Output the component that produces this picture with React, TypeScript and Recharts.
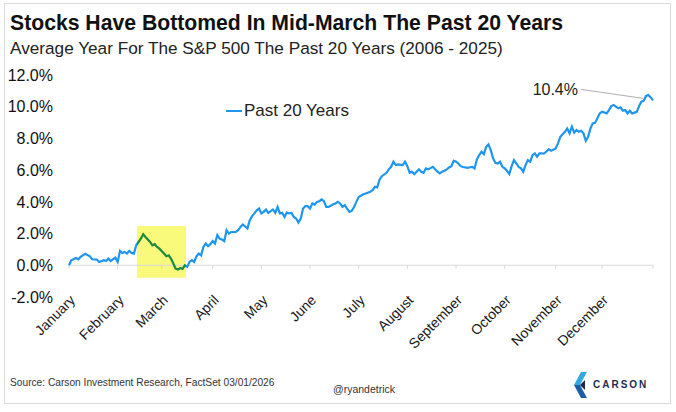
import React from 'react';
import {
  LineChart,
  Line,
  XAxis,
  YAxis,
  ReferenceArea,
  ReferenceLine,
  Legend,
  LabelList,
} from 'recharts';

// trading day of the year (0 = first close) and average cumulative return, %
const tradingDay = [
  0, 1, 3, 4, 5, 7, 9, 10, 12, 13, 15, 16, 17, 18, 20, 21, 22, 23, 24, 25, 26, 27, 28, 29, 31,
  32, 33, 35, 36, 37, 38, 39, 41, 42, 43, 44, 45, 46, 47, 48, 49, 50, 51, 52, 53, 54, 55, 56, 57,
  58, 59, 60, 61, 62, 63, 64, 65, 66, 67, 68, 69, 70, 72, 73, 74, 75, 77, 78, 79, 80, 81, 82, 83,
  84, 85, 86, 88, 89, 90, 91, 92, 93, 94, 95, 96, 97, 98, 99, 100, 101, 102, 103, 104, 105, 106,
  107, 108, 109, 110, 111, 112, 114, 115, 116, 117, 118, 119, 120, 121, 122, 123, 124, 125, 127,
  128, 130, 131, 132, 133, 134, 135, 137, 138, 139, 140, 141, 142, 144, 145, 146, 147, 148, 149,
  150, 151, 152, 153, 154, 155, 157, 158, 159, 160, 161, 162, 163, 164, 165, 166, 167, 168, 169,
  170, 172, 173, 174, 175, 176, 177, 178, 179, 180, 181, 182, 183, 184, 185, 186, 187, 188, 189,
  190, 191, 192, 193, 194, 195, 196, 197, 198, 199, 200, 201, 202, 203, 204, 205, 207, 208, 210,
  211, 212, 214, 215, 216, 217, 218, 219, 220, 221, 222, 223, 224, 225, 226, 227, 228, 229, 230,
  232, 233, 234, 235, 236, 237, 238, 239, 240, 241, 242, 243, 245, 246, 247, 248, 249, 250, 251, 252,
];

const avgReturn = [
  0.0, 0.32, 0.46, 0.38, 0.53, 0.72, 0.57, 0.38, 0.36, 0.21, 0.32, 0.27, 0.42, 0.27, 0.48, 0.21,
  0.9, 0.78, 0.84, 0.74, 0.9, 0.78, 0.74, 1.26, 1.68,
  1.96, 1.79, 1.47, 1.26, 1.33, 1.16, 1.05, 0.74, 0.57, 0.63, 0.42, 0.11, -0.21, -0.27, -0.17,
  -0.23, 0.0, -0.1, 0.21, 0.32, 0.21, 0.57, 0.74, 0.63,
  1.16, 1.37, 1.2, 1.33, 1.53, 1.37, 1.9, 1.68, 1.62, 1.52, 2.21, 2.0, 2.1, 2.1, 2.21, 2.42, 2.57,
  2.32, 2.84, 3.1, 3.27, 3.47, 3.58, 3.27,
  3.37, 3.52, 3.3, 3.52, 3.3, 3.68, 3.27, 3.3, 3.05, 3.33, 3.27, 3.3, 3.05, 2.95, 2.7, 2.95, 3.58,
  3.73, 3.73, 3.58, 3.9, 3.83,
  4.0, 4.04, 4.15, 4.04, 3.68, 3.68, 3.85, 3.9, 4.0, 3.9, 3.68, 3.79, 3.58, 3.37, 3.43, 3.68, 4.0,
  4.31, 4.48,
  4.53, 4.63, 4.74, 4.95, 4.91, 5.4, 5.62, 5.83, 6.05, 6.21, 6.53, 6.32, 6.36, 6.32, 6.53, 6.25,
  5.83, 5.9, 5.75,
  5.9, 6.05, 5.9, 5.83, 6.11, 6.05, 6.21, 6.05, 5.9, 5.79, 5.9, 5.96, 6.05, 6.17, 6.25, 6.59, 6.53,
  6.42, 6.25,
  6.2, 6.15, 6.18, 6.21, 6.11, 6.68, 6.95, 7.16, 7.01, 7.47, 7.62, 7.26, 6.74, 6.46, 6.42, 6.53,
  6.21, 6.11, 5.96,
  5.75, 6.25, 6.63, 6.42, 6.21, 6.11, 5.9, 6.32, 6.63, 6.53, 6.95, 7.06, 6.84, 7.06, 7.06, 7.05,
  7.31, 7.22, 7.37,
  7.69, 8.1, 8.42, 8.63, 8.32, 8.74, 8.36, 8.53, 8.42, 8.48, 8.32, 7.85, 8.1, 8.63, 8.95, 8.99,
  9.27, 9.58, 9.68,
  9.58, 9.79, 10.04, 10.11, 10.0, 9.9, 9.96, 9.75, 9.79, 9.58, 9.75, 9.58, 9.68, 10.04, 10.32,
  10.38, 10.68, 10.74, 10.59, 10.4,
];

const monthNames = [
  'January', 'February', 'March', 'April', 'May', 'June',
  'July', 'August', 'September', 'October', 'November', 'December',
];
const monthStarts = [0, 21, 40, 62, 83, 104, 125, 146, 167, 188, 210, 230];
const yearEnd = 252;
const yTicks = [-2, 0, 2, 4, 6, 8, 10, 12];

// mid-March bottoming window
const highlightDays = [29.3, 50.5];
const highlightRange = [-0.78, 2.48];

const data = tradingDay.map((day, i) => ({ day, value: avgReturn[i] }));

const BLUE = '#1f96ee';
const GREEN = '#1e8a3e';
const YELLOW = '#f9f97c';
const FONT = "'Liberation Sans', Arial, sans-serif";

const EndLabel = (props: any) => {
  const { x, y, index, value } = props;
  if (index !== data.length - 1) return null;
  return (
    <g>
      <line x1={x - 10} y1={y - 2} x2={x - 72} y2={y - 11} stroke="#b0b0b0" strokeWidth={1} />
      <text x={x - 75} y={y - 11} textAnchor="end" dominantBaseline="central"
        fontSize={16} fill="#222" fontFamily={FONT}>
        {`${Number(value).toFixed(1)}%`}
      </text>
    </g>
  );
};

const LegendContent = () => (
  <div style={{ display: 'flex', alignItems: 'center', fontFamily: FONT, fontSize: 17, color: '#222', whiteSpace: 'nowrap' }}>
    <span style={{ width: 16, height: 2, background: BLUE, display: 'inline-block', marginRight: 2 }} />
    Past 20 Years
  </div>
);

const App = () => {
  const gradStart = highlightDays[0] / yearEnd;
  const gradEnd = highlightDays[1] / yearEnd;

  return (
    <div style={{ position: 'absolute', left: 0, top: 0, width: 676, height: 412, background: '#fff' }}>
      <svg width={676} height={412} style={{ position: 'absolute', left: 0, top: 0 }}>
        <rect x={4.5} y={3.5} width={666} height={400} fill="none" stroke="#dadada" />
        <text x={10} y={30} fontFamily={FONT} fontWeight="bold" fontSize={21.2} fill="#111">
          Stocks Have Bottomed In Mid-March The Past 20 Years
        </text>
        <text x={10} y={54} fontFamily={FONT} fontSize={17.2} fill="#222">
          Average Year For The S&amp;P 500 The Past 20 Years (2006 - 2025)
        </text>
        <text x={10} y={386} fontFamily={FONT} fontSize={10.2} fill="#333">
          Source: Carson Investment Research, FactSet 03/01/2026
        </text>
        <text x={364} y={393} textAnchor="middle" fontFamily={FONT} fontSize={10.5} fill="#333">
          @ryandetrick
        </text>
        <polygon points="581,372 587,372 580,385 574,385" fill="#35a8e2" />
        <polygon points="574,385 580,385 587,398 581,398" fill="#1a5ea6" />
        <polygon points="580,385 585,380 585,390" fill="#1c2a4a" />
        <text x={593} y={388} fontFamily={FONT} fontSize={10} fontWeight="bold" letterSpacing={2} fill="#1f2d50">
          CARSON
        </text>
      </svg>

      <div style={{ position: 'absolute', left: 0, top: 0 }}>
        <LineChart width={676} height={412} data={data} margin={{ top: 75, right: 23, bottom: 0, left: 9 }}>
          <defs>
            <linearGradient id="hl" x1="0" y1="0" x2="1" y2="0">
              <stop offset={gradStart} stopColor={BLUE} />
              <stop offset={gradStart} stopColor={GREEN} />
              <stop offset={gradEnd} stopColor={GREEN} />
              <stop offset={gradEnd} stopColor={BLUE} />
            </linearGradient>
          </defs>
          <XAxis
            type="number"
            dataKey="day"
            domain={[0, yearEnd]}
            ticks={monthStarts}
            tickFormatter={(v: number) => monthNames[monthStarts.indexOf(v)]}
            height={115}
            axisLine={false}
            tickLine={false}
            tickSize={0}
            tickMargin={-3}
            angle={-45}
            textAnchor="end"
            interval={0}
            tick={{ fontSize: 14, fill: '#1a1a1a', fontFamily: FONT }}
          />
          <YAxis
            type="number"
            domain={[-2, 12]}
            ticks={yTicks}
            tickFormatter={(v: number) => `${v.toFixed(1)}%`}
            width={60}
            axisLine={false}
            tickLine={false}
            tickMargin={10}
            tick={{ fontSize: 16, fill: '#111', fontFamily: FONT }}
          />
          <ReferenceArea
            x1={highlightDays[0]}
            x2={highlightDays[1]}
            y1={highlightRange[0]}
            y2={highlightRange[1]}
            fill={YELLOW}
            fillOpacity={1}
            stroke="none"
          />
          <ReferenceLine y={0} stroke="#d9d9d9" strokeWidth={1} />
          {[...monthStarts, yearEnd].map((t) => (
            <ReferenceLine key={t} segment={[{ x: t, y: 0 }, { x: t, y: -0.22 }]} stroke="#d9d9d9" />
          ))}
          <Legend
            layout="horizontal"
            verticalAlign="middle"
            align="center"
            wrapperStyle={{ left: 226, top: 101, width: 'auto' }}
            content={<LegendContent />}
          />
          <Line
            type="linear"
            dataKey="value"
            stroke="url(#hl)"
            strokeWidth={2.2}
            dot={false}
            isAnimationActive={false}
          >
            <LabelList dataKey="value" content={<EndLabel />} />
          </Line>
        </LineChart>
      </div>
    </div>
  );
};

export default App;
